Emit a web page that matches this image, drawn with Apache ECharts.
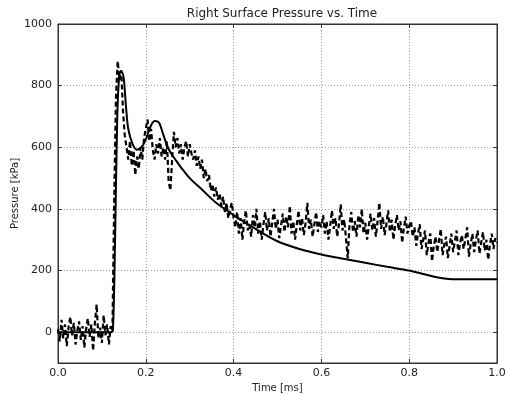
<!DOCTYPE html>
<html>
<head>
<meta charset="utf-8">
<script src="https://cdn.jsdelivr.net/npm/echarts@6/dist/echarts.min.js"></script>
<style>
  html, body { margin: 0; padding: 0; background: #fff; }
  #chart { width: 505px; height: 395px; }
</style>
</head>
<body>
<div id="chart"></div>
<script>
// simulation (solid line)
var simTime = [0, 0.05, 0.1, 0.12, 0.125, 0.13, 0.135, 0.14, 0.145, 0.15, 0.155, 0.16, 0.17, 0.18,
  0.19, 0.2, 0.21, 0.22, 0.23, 0.24, 0.25, 0.26, 0.27, 0.28, 0.3, 0.33, 0.36, 0.4, 0.45, 0.5,
  0.55, 0.6, 0.65, 0.7, 0.75, 0.8, 0.85, 0.88, 0.9, 0.95, 1.0]
var simPressure = [0, 0, 0, 0, 5, 300, 700, 840, 845, 820, 730, 660, 610, 592,
  600, 625, 665, 685, 680, 640, 600, 575, 555, 535, 500, 460, 420, 380, 335, 295,
  270, 252, 238, 225, 212, 200, 182, 174, 172, 172, 172]

// experiment (dashed line), sampled every 0.004 ms from t = 0
var expStep = 0.004
var expPressure = [
  10, -30, 40, -20, 25, -45, 15, 50, -10, 30, -40, 5, 35, -25, 20, -50,
  10, 45, -15, 25, -60, 30, 90, -20, 15, -35, 55, -10, 25, -40, 20, 5,
  420, 760, 880, 820, 850, 720, 640, 600, 560, 620, 540, 590, 510, 570, 530, 600,
  560, 630, 660, 690, 620, 660, 590, 560, 610, 580, 630, 570, 600, 560, 620, 490,
  460, 560, 650, 600, 630, 580, 610, 560, 600, 620, 570, 610, 580, 560, 590, 540,
  570, 530, 560, 500, 530, 490, 510, 460, 480, 440, 470, 430, 450, 410, 440, 390,
  420, 370, 400, 420, 370,
  340, 390, 320, 370, 300, 360, 395, 330, 350, 310, 380, 340, 400, 320, 360, 300,
  350, 390, 330, 370, 310, 355, 400, 335, 365, 305, 345, 385, 325, 375, 340, 410,
  320, 360, 300, 350, 395, 330, 370, 315, 355, 420, 335, 365, 310, 350, 390, 325,
  360, 340,
  380, 320, 360, 300, 345, 395, 335, 370, 310, 350, 415, 330, 365, 305, 240, 350,
  390, 325, 360, 310, 380, 340, 400, 320, 355, 300, 345, 385, 330, 370, 310, 360,
  420, 335, 375, 315, 350, 395, 325, 365, 300, 345, 380, 330, 360, 290, 340, 375,
  320, 345,
  360, 310, 340, 280, 320, 350, 270, 300, 330, 250, 290, 320, 230, 280, 310, 260,
  300, 335, 250, 285, 310, 240, 280, 320, 260, 295, 330, 250, 290, 315, 270, 305,
  340, 245, 285, 320, 260, 300, 330, 255, 290, 325, 265, 300, 235, 285, 320, 270,
  305, 290
]

var xTicks = [0, 0.2, 0.4, 0.6, 0.8, 1.0]
var yTicks = [0, 200, 400, 600, 800, 1000]

var simData = simTime.map(function (t, i) { return [t, simPressure[i]] })
var expData = expPressure.map(function (p, i) { return [+(i * expStep).toFixed(3), p] })

var font = 'DejaVu Sans'
var frame = '#333'
var gridLine = { show: true, lineStyle: { color: '#999', type: [1, 2], width: 1 } }

var chart = echarts.init(document.getElementById('chart'))
chart.setOption({
  animation: false,
  backgroundColor: '#fff',
  title: {
    text: 'Right Surface Pressure vs. Time',
    left: 277,
    top: 3,
    textAlign: 'center',
    textStyle: { fontFamily: font, fontSize: 12, fontWeight: 'normal', color: '#222' }
  },
  grid: {
    left: 58, right: 8, top: 24, bottom: 32,
    outerBoundsMode: 'none', containLabel: false,
    show: true, borderColor: frame, borderWidth: 1
  },
  xAxis: [{
    type: 'value',
    min: 0,
    max: 1,
    interval: 0.2,
    name: 'Time [ms]',
    nameLocation: 'middle',
    nameGap: 17,
    nameTextStyle: { fontFamily: font, fontSize: 10, color: '#222' },
    axisLine: { onZero: false, lineStyle: { color: frame } },
    axisTick: { inside: true, length: 4, lineStyle: { color: frame } },
    axisLabel: {
      fontFamily: font, fontSize: 11, color: '#222', margin: 5,
      formatter: function (v) { return v.toFixed(1) }
    },
    splitLine: gridLine
  }, {
    type: 'value',
    position: 'top',
    min: 0,
    max: 1,
    interval: 0.2,
    axisLine: { onZero: false, lineStyle: { color: frame } },
    axisTick: { inside: true, length: 4, lineStyle: { color: frame } },
    axisLabel: { show: false },
    splitLine: { show: false }
  }],
  yAxis: [{
    type: 'value',
    min: -100,
    max: 1000,
    name: 'Pressure [kPa]',
    nameLocation: 'middle',
    nameGap: 38,
    nameMoveOverlap: false,
    nameTextStyle: { fontFamily: font, fontSize: 10, color: '#222' },
    axisLine: { show: true, onZero: false, lineStyle: { color: frame } },
    axisTick: { show: true, inside: true, length: 4, lineStyle: { color: frame }, customValues: yTicks },
    axisLabel: {
      fontFamily: font, fontSize: 11, color: '#222', margin: 6, customValues: yTicks,
      formatter: function (v) { return String(v) }
    },
    splitLine: gridLine
  }, {
    type: 'value',
    position: 'right',
    min: -100,
    max: 1000,
    axisLine: { show: true, onZero: false, lineStyle: { color: frame } },
    axisTick: { show: true, inside: true, length: 4, lineStyle: { color: frame }, customValues: yTicks },
    axisLabel: { show: false },
    splitLine: { show: false }
  }],
  series: [{
    name: 'experiment',
    type: 'line',
    data: expData,
    showSymbol: false,
    lineStyle: { color: '#000', width: 2.2, type: [5, 3] },
    z: 3
  }, {
    name: 'simulation',
    type: 'line',
    data: simData,
    showSymbol: false,
    smooth: 0.3,
    lineStyle: { color: '#000', width: 2 },
    z: 4
  }]
})
</script>
</body>
</html>
